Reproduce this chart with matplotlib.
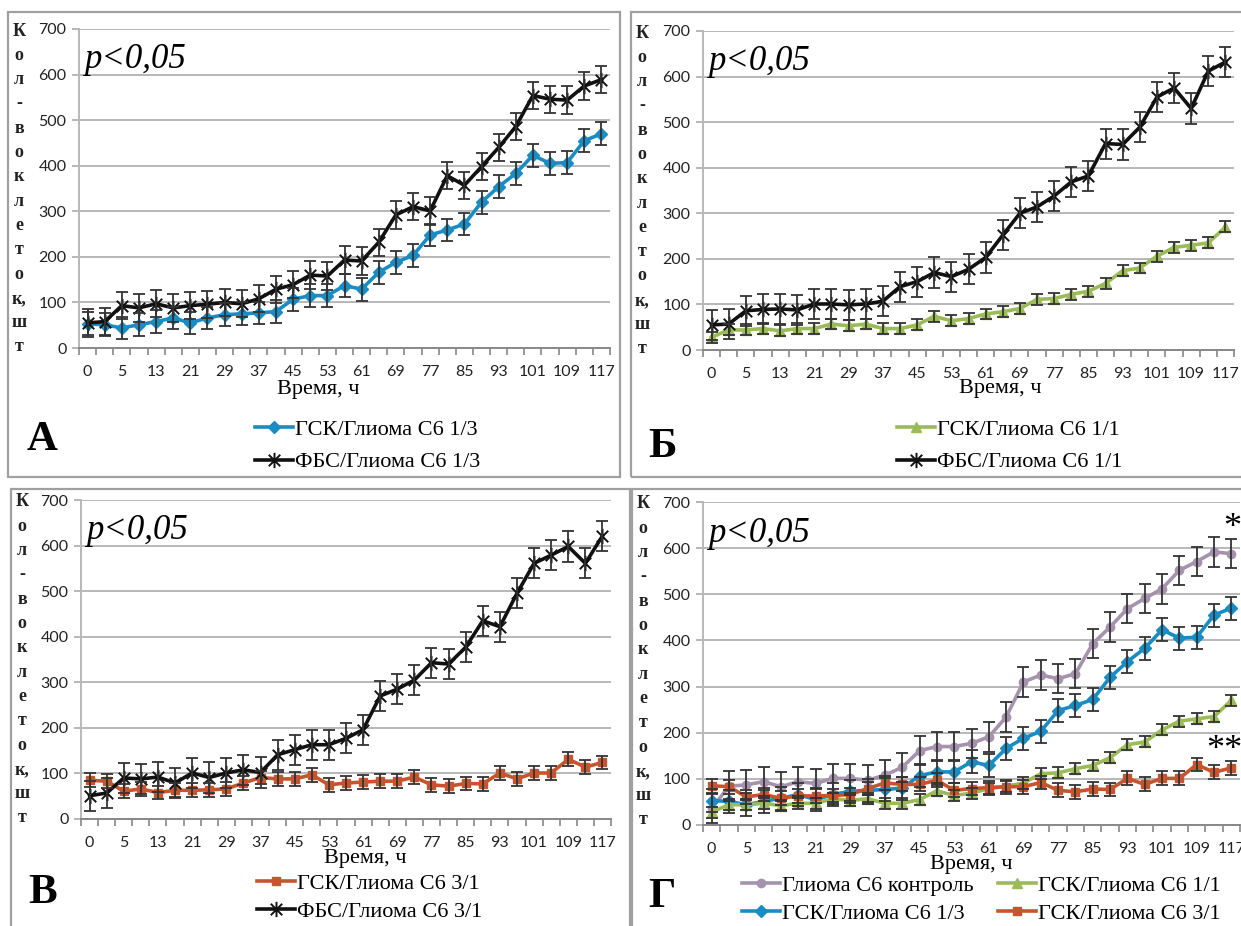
import numpy as np
import matplotlib
matplotlib.use('Agg')
import matplotlib.pyplot as plt
from matplotlib.path import Path
from matplotlib.patches import Rectangle

# categories (hours) - every other one is labelled
hours = [0, 1, 5, 9, 13, 17, 21, 25, 29, 33, 37, 41, 45, 49, 53, 57, 61, 65, 69, 73,
         77, 81, 85, 89, 93, 97, 101, 105, 109, 113, 117]

# series values
gsk_13 = [53, 51, 44, 51, 58, 66, 55, 66, 73, 75, 77, 80, 107, 115, 115, 137, 129, 166,
          188, 203, 248, 259, 272, 320, 354, 383, 423, 405, 407, 455, 470]
fbs_13 = [55, 58, 93, 88, 97, 88, 93, 96, 100, 97, 108, 129, 139, 160, 158, 193, 191, 232,
          292, 310, 301, 378, 357, 398, 440, 486, 554, 546, 544, 575, 589]
gsk_11 = [28, 44, 44, 47, 42, 47, 47, 57, 53, 57, 47, 47, 55, 74, 64, 69, 79, 84,
          91, 111, 113, 122, 129, 146, 174, 180, 206, 225, 230, 235, 270]
fbs_11 = [55, 57, 86, 89, 90, 88, 101, 101, 99, 101, 107, 139, 150, 170, 161, 177, 203, 252,
          300, 314, 338, 369, 382, 453, 451, 489, 555, 575, 530, 612, 632]
gsk_31 = [85, 83, 61, 66, 58, 63, 63, 64, 66, 79, 91, 88, 88, 97, 75, 79, 81, 83,
          83, 92, 75, 72, 78, 77, 101, 88, 101, 101, 131, 114, 124]
fbs_31 = [51, 57, 90, 88, 92, 79, 101, 91, 101, 108, 102, 141, 152, 163, 163, 177, 196, 270,
          285, 305, 343, 340, 377, 435, 422, 495, 561, 579, 598, 561, 621]
control = [36, 84, 87, 94, 83, 94, 90, 101, 101, 97, 108, 125, 161, 170, 170, 177, 191, 234,
           310, 325, 317, 328, 393, 429, 469, 491, 512, 552, 571, 592, 588]

# error bar half-widths
err_gsk_13 = 25
err_fbs_13 = 30
err_gsk_11 = 12
err_fbs_11 = 33
err_gsk_31 = 15
err_fbs_31 = 33
err_control = 32

lbl_gsk_13 = 'ГСК/Глиома С6 1/3'
lbl_fbs_13 = 'ФБС/Глиома С6 1/3'
lbl_gsk_11 = 'ГСК/Глиома С6 1/1'
lbl_fbs_11 = 'ФБС/Глиома С6 1/1'
lbl_gsk_31 = 'ГСК/Глиома С6 3/1'
lbl_fbs_31 = 'ФБС/Глиома С6 3/1'
lbl_control = 'Глиома С6 контроль'

W, H = 1241, 926
fig = plt.figure(figsize=(W / 100, H / 100), dpi=100)

def fx(x):
    return x / W

def fy(y):
    return 1 - y / H

# star marker like the Excel one: X plus vertical bar
star = Path([(0, -1), (0, 1), (-0.75, -0.75), (0.75, 0.75), (-0.75, 0.75), (0.75, -0.75)],
            [Path.MOVETO, Path.LINETO, Path.MOVETO, Path.LINETO, Path.MOVETO, Path.LINETO])

styles = {
    'blue': dict(color='#1a8cc4', marker='D', markersize=6),
    'black': dict(color='#111111', marker=star, markersize=11, markeredgewidth=1.4),
    'green': dict(color='#9bbb59', marker='^', markersize=7),
    'red': dict(color='#c5552f', marker='s', markersize=6),
    'purple': dict(color='#a593ad', marker='o', markersize=6),
}

serif = 'Liberation Serif'
sans = 'Lato'
ylab = ['К', 'о', 'л', '-', 'в', 'о', 'к', 'л', 'е', 'т', 'о', 'к,', 'ш', 'т']
x = np.arange(len(hours))


def panel(box, series, frame, letter, letter_xy, xlab_xy, leg_xy, ncol=1, spacing=0.5):
    l, t, r, b = box
    ax = fig.add_axes([fx(l), fy(b), (r - l) / W, (b - t) / H])
    handles = []
    for vals, err, st, lab in series:
        st = styles[st]
        h, = ax.plot(x, vals, lw=2.6, color=st['color'], marker=st['marker'],
                     markersize=st['markersize'], mec=st['color'], mfc=st['color'],
                     mew=st.get('markeredgewidth', 1), zorder=3, label=lab)
        ax.errorbar(x, vals, yerr=err, fmt='none', ecolor='#333333', elinewidth=1.3,
                    capsize=4, capthick=1.3, zorder=4)
        handles.append(h)
    ax.set_xlim(-0.5, len(hours) - 0.5)
    ax.set_ylim(0, 700)
    ax.set_yticks(range(0, 701, 100))
    ax.set_xticks(x[::2])
    ax.set_xticklabels([str(h) for h in hours[::2]])
    ax.set_xticks(np.arange(-0.5, len(hours), 1), minor=True)
    ax.tick_params(axis='x', which='major', length=0, pad=12, labelsize=11.5)
    ax.tick_params(axis='x', which='minor', length=5, color='#888888', width=1.2)
    ax.tick_params(axis='y', length=5, color='#aaaaaa', width=1.2, pad=4, labelsize=11.5)
    for lab in ax.get_xticklabels() + ax.get_yticklabels():
        lab.set_fontfamily(sans)
        lab.set_color('#222222')
    ax.grid(axis='y', color='#b8b8b8', lw=1.4)
    ax.set_axisbelow(True)
    for s in ['top', 'right']:
        ax.spines[s].set_visible(False)
    ax.spines['left'].set_color('#b8b8b8')
    ax.spines['left'].set_linewidth(1.4)
    ax.spines['bottom'].set_color('#888888')
    ax.spines['bottom'].set_linewidth(1.4)
    ax.patch.set_alpha(0)

    ax.text(0.01, 0.955, 'p<0,05', transform=ax.transAxes, ha='left', va='top',
            fontsize=25, fontstyle='italic', family=serif)

    # stacked y label
    for i, ch in enumerate(ylab):
        fig.text(fx(frame[0] + 11), fy(t + 2 + i * 24.3), ch, ha='center', va='center',
                 fontsize=13, fontweight='bold', family=serif, color='#222222')

    fig.text(fx(xlab_xy[0]), fy(xlab_xy[1]), 'Время, ч', ha='center', va='center',
             fontsize=16, family=serif)
    fig.text(fx(letter_xy[0]), fy(letter_xy[1]), letter, ha='left', va='center',
             fontsize=31, fontweight='bold', family=serif)

    ax.legend(handles=handles, loc='upper left', bbox_to_anchor=(fx(leg_xy[0]), fy(leg_xy[1])),
              bbox_transform=fig.transFigure, frameon=False, ncol=ncol, borderpad=0,
              borderaxespad=0, handlelength=1.7, handletextpad=0.1, labelspacing=spacing,
              columnspacing=1.1, prop=dict(family=serif, size=16))

    fig.patches.append(Rectangle((fx(frame[0]), fy(frame[3])), (frame[2] - frame[0]) / W,
                                 (frame[3] - frame[1]) / H, transform=fig.transFigure,
                                 fill=False, ec='#a0a0a0', lw=1.6, zorder=0))
    return ax


panel((79, 29, 610, 348),
      [(gsk_13, err_gsk_13, 'blue', lbl_gsk_13), (fbs_13, err_fbs_13, 'black', lbl_fbs_13)],
      (8, 12, 620, 477), 'А', (27, 440), (318, 390), (255, 419), spacing=0.55)

panel((703, 31, 1234, 350),
      [(gsk_11, err_gsk_11, 'green', lbl_gsk_11), (fbs_11, err_fbs_11, 'black', lbl_fbs_11)],
      (631, 12, 1245, 477), 'Б', (648, 447), (1000, 389), (897, 419), spacing=0.55)

panel((81, 500, 611, 819),
      [(gsk_31, err_gsk_31, 'red', lbl_gsk_31), (fbs_31, err_fbs_31, 'black', lbl_fbs_31)],
      (11, 489, 630, 935), 'В', (28, 893), (365, 858), (257, 873), spacing=0.35)

axg = panel((703, 502, 1240, 825),
            [(control, err_control, 'purple', lbl_control), (gsk_13, err_gsk_13, 'blue', lbl_gsk_13),
             (gsk_11, err_gsk_11, 'green', lbl_gsk_11), (gsk_31, err_gsk_31, 'red', lbl_gsk_31)],
            (632, 489, 1250, 935), 'Г', (648, 897), (971, 864), (742, 875), ncol=2, spacing=0.35)

fig.text(fx(1232), fy(528), '*', ha='center', va='center', fontsize=26, family=serif)
fig.text(fx(1224), fy(751), '**', ha='center', va='center', fontsize=26, family=serif)

fig.savefig('out.png', dpi=100)
